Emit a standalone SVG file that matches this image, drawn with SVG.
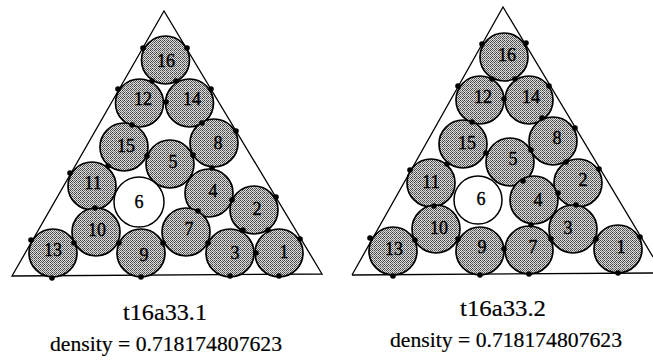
<svg xmlns="http://www.w3.org/2000/svg" width="653" height="361" viewBox="0 0 653 361">
<defs>
<pattern id="stip" width="4" height="4" patternUnits="userSpaceOnUse">
<rect width="4" height="4" fill="#dcdcdc"/>
<rect x="0" y="0" width="1" height="1" fill="#3c3c3c"/>
<rect x="2" y="0" width="1" height="1" fill="#5a5a5a"/>
<rect x="1" y="1" width="1" height="1" fill="#6a6a6a"/>
<rect x="3" y="1" width="1" height="1" fill="#444"/>
<rect x="0" y="2" width="1" height="1" fill="#5a5a5a"/>
<rect x="2" y="2" width="1" height="1" fill="#3c3c3c"/>
<rect x="3" y="3" width="1" height="1" fill="#6a6a6a"/>
<rect x="1" y="3" width="1" height="1" fill="#8a8a8a"/>
</pattern>
</defs>
<style>
.c{fill:url(#stip);stroke:#000;stroke-width:1.7}
.w{fill:#fff;stroke:#000;stroke-width:1.5}
.n{font-family:"Liberation Serif","Times New Roman",serif;font-size:18px;text-anchor:middle;dominant-baseline:central;fill:#000;stroke:#000;stroke-width:0.4}
.tri{fill:none;stroke:#000;stroke-width:1.3}
.d{fill:#000}
.cap{font-family:"Liberation Serif","Times New Roman",serif;fill:#000;text-anchor:middle;stroke:#000;stroke-width:0.2}
.t{font-size:24px}
.s{font-size:22px}
</style>
<rect width="653" height="361" fill="#fff"/>
<g id="frames">
<polygon class="tri" points="164,11 12,276 322,274"/>
<polyline class="tri" points="352,275 503,7 653,257"/>
<line class="tri" x1="352" y1="275" x2="653" y2="273"/>
</g>
<g id="left">
<g id="L16"><circle class="c" cx="165.5" cy="60" r="24"/><text class="n" x="166" y="61">16</text></g>
<g id="L12"><circle class="c" cx="139.5" cy="103" r="24"/><text class="n" x="143" y="99">12</text></g>
<g id="L14"><circle class="c" cx="189.5" cy="103" r="24"/><text class="n" x="192" y="99">14</text></g>
<g id="L15"><circle class="c" cx="124" cy="147" r="24"/><text class="n" x="126" y="146">15</text></g>
<g id="L5"><circle class="c" cx="170" cy="164" r="24"/><text class="n" x="173" y="162">5</text></g>
<g id="L8"><circle class="c" cx="214" cy="143" r="24"/><text class="n" x="218" y="143">8</text></g>
<g id="L11"><circle class="c" cx="92" cy="186" r="24"/><text class="n" x="93" y="183">11</text></g>
<g id="L6"><circle class="w" cx="139" cy="202" r="25"/><text class="n" x="139" y="202">6</text></g>
<g id="L4"><circle class="c" cx="209" cy="193" r="24"/><text class="n" x="213" y="191">4</text></g>
<g id="L2"><circle class="c" cx="254" cy="210" r="24"/><text class="n" x="257" y="209">2</text></g>
<g id="L10"><circle class="c" cx="96" cy="232" r="24"/><text class="n" x="97" y="230">10</text></g>
<g id="L7"><circle class="c" cx="186" cy="232" r="24"/><text class="n" x="189" y="229">7</text></g>
<g id="L13"><circle class="c" cx="53" cy="253" r="24"/><text class="n" x="53" y="250">13</text></g>
<g id="L9"><circle class="c" cx="141" cy="253" r="24"/><text class="n" x="144" y="255">9</text></g>
<g id="L3"><circle class="c" cx="230" cy="253" r="24"/><text class="n" x="235" y="253">3</text></g>
<g id="L1"><circle class="c" cx="279" cy="253" r="24"/><text class="n" x="284" y="252">1</text></g>
</g>
<g id="right">
<g id="R16"><circle class="c" cx="504" cy="57" r="24"/><text class="n" x="507" y="55">16</text></g>
<g id="R12"><circle class="c" cx="480" cy="100" r="24"/><text class="n" x="483" y="97">12</text></g>
<g id="R14"><circle class="c" cx="529" cy="100" r="24"/><text class="n" x="531" y="97">14</text></g>
<g id="R15"><circle class="c" cx="463" cy="144" r="24"/><text class="n" x="467" y="143">15</text></g>
<g id="R5"><circle class="c" cx="510" cy="162" r="24"/><text class="n" x="513" y="159">5</text></g>
<g id="R8"><circle class="c" cx="553" cy="141" r="24"/><text class="n" x="557" y="138">8</text></g>
<g id="R11"><circle class="c" cx="431" cy="183" r="24"/><text class="n" x="431" y="182">11</text></g>
<g id="R6"><circle class="w" cx="478" cy="200" r="24"/><text class="n" x="481" y="199">6</text></g>
<g id="R2"><circle class="c" cx="578" cy="183" r="24"/><text class="n" x="583" y="180">2</text></g>
<g id="R4"><circle class="c" cx="534" cy="200" r="24"/><text class="n" x="538" y="200">4</text></g>
<g id="R10"><circle class="c" cx="436" cy="229" r="24"/><text class="n" x="439" y="228">10</text></g>
<g id="R3"><circle class="c" cx="573" cy="229" r="24"/><text class="n" x="568" y="228">3</text></g>
<g id="R13"><circle class="c" cx="393" cy="251" r="24"/><text class="n" x="394" y="249">13</text></g>
<g id="R9"><circle class="c" cx="480" cy="251" r="24"/><text class="n" x="482" y="247">9</text></g>
<g id="R7"><circle class="c" cx="529" cy="250" r="24"/><text class="n" x="533" y="247">7</text></g>
<g id="R1"><circle class="c" cx="618" cy="249" r="24"/><text class="n" x="621" y="247">1</text></g>
</g>
<g id="contacts">
<g id="ldots">
<circle class="d" cx="143" cy="48" r="2.8"/><circle class="d" cx="187" cy="48" r="2.8"/>
<circle class="d" cx="152" cy="81" r="2.8"/><circle class="d" cx="176" cy="81" r="2.8"/>
<circle class="d" cx="118" cy="89" r="2.8"/><circle class="d" cx="211" cy="89" r="2.8"/>
<circle class="d" cx="166" cy="102" r="2.8"/><circle class="d" cx="132" cy="125" r="2.8"/>
<circle class="d" cx="202" cy="123" r="2.8"/><circle class="d" cx="236" cy="131" r="2.8"/>
<circle class="d" cx="147" cy="156" r="2.8"/><circle class="d" cx="193" cy="155" r="2.8"/>
<circle class="d" cx="108" cy="166" r="2.8"/><circle class="d" cx="212" cy="168" r="2.8"/>
<circle class="d" cx="70" cy="173" r="2.8"/><circle class="d" cx="232" cy="200" r="2.8"/>
<circle class="d" cx="276" cy="197" r="2.8"/><circle class="d" cx="95" cy="208" r="2.8"/>
<circle class="d" cx="198" cy="211" r="2.8"/><circle class="d" cx="243" cy="230" r="2.8"/>
<circle class="d" cx="268" cy="230" r="2.8"/><circle class="d" cx="31" cy="240" r="2.8"/>
<circle class="d" cx="74" cy="243" r="2.8"/><circle class="d" cx="119" cy="243" r="2.8"/>
<circle class="d" cx="163" cy="243" r="2.8"/><circle class="d" cx="208" cy="243" r="2.8"/>
<circle class="d" cx="300" cy="239" r="2.8"/><circle class="d" cx="256" cy="253" r="2.8"/>
<circle class="d" cx="52" cy="278" r="2.8"/><circle class="d" cx="141" cy="277" r="2.8"/>
<circle class="d" cx="230" cy="276" r="2.8"/><circle class="d" cx="279" cy="276" r="2.8"/>
</g>
<g id="rdots">
<circle class="d" cx="482" cy="44" r="2.8"/><circle class="d" cx="526" cy="43" r="2.8"/>
<circle class="d" cx="492" cy="79" r="2.8"/><circle class="d" cx="515" cy="79" r="2.8"/>
<circle class="d" cx="458" cy="86" r="2.8"/><circle class="d" cx="549" cy="86" r="2.8"/>
<circle class="d" cx="504" cy="99" r="2.8"/><circle class="d" cx="472" cy="122" r="2.8"/>
<circle class="d" cx="542" cy="118" r="2.8"/><circle class="d" cx="575" cy="128" r="2.8"/>
<circle class="d" cx="486" cy="153" r="2.8"/><circle class="d" cx="531" cy="150" r="2.8"/>
<circle class="d" cx="447" cy="164" r="2.8"/><circle class="d" cx="566" cy="162" r="2.8"/>
<circle class="d" cx="410" cy="170" r="2.8"/><circle class="d" cx="599" cy="169" r="2.8"/>
<circle class="d" cx="523" cy="181" r="2.8"/><circle class="d" cx="558" cy="193" r="2.8"/>
<circle class="d" cx="434" cy="206" r="2.8"/><circle class="d" cx="576" cy="205" r="2.8"/>
<circle class="d" cx="531" cy="225" r="2.8"/><circle class="d" cx="370" cy="238" r="2.8"/>
<circle class="d" cx="415" cy="240" r="2.8"/><circle class="d" cx="458" cy="239" r="2.8"/>
<circle class="d" cx="504" cy="249" r="2.8"/><circle class="d" cx="551" cy="239" r="2.8"/>
<circle class="d" cx="596" cy="239" r="2.8"/><circle class="d" cx="640" cy="237" r="2.8"/>
<circle class="d" cx="393" cy="276" r="2.8"/><circle class="d" cx="480" cy="275" r="2.8"/>
<circle class="d" cx="529" cy="274" r="2.8"/><circle class="d" cx="618" cy="273" r="2.8"/>
</g>
</g>
<g id="captions">
<text class="cap t" x="165" y="320" textLength="84" lengthAdjust="spacingAndGlyphs">t16a33.1</text>
<text class="cap s" x="166" y="351" textLength="232" lengthAdjust="spacingAndGlyphs">density = 0.718174807623</text>
<text class="cap t" x="503" y="316" textLength="86" lengthAdjust="spacingAndGlyphs">t16a33.2</text>
<text class="cap s" x="506" y="347" textLength="232" lengthAdjust="spacingAndGlyphs">density = 0.718174807623</text>
</g>
</svg>
